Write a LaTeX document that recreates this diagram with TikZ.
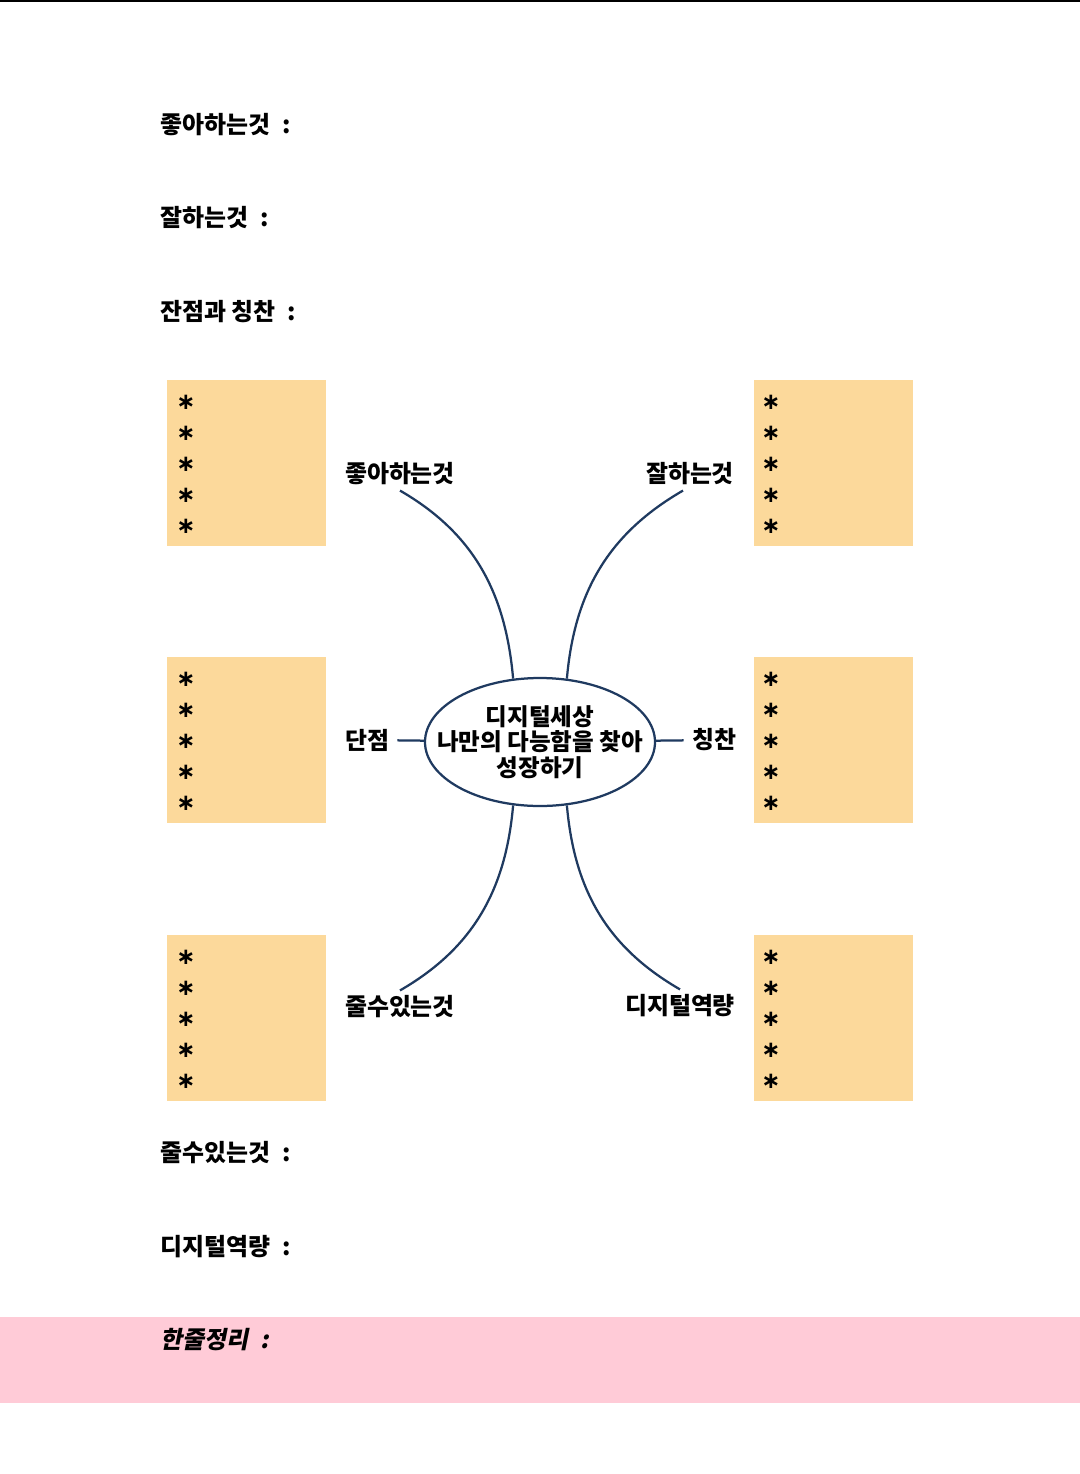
\documentclass[tikz,border=0pt]{standalone}
\usepackage{fontspec}
\setmainfont{Noto Sans CJK KR}
\newfontfamily\krslant{Noto Sans CJK KR}[FakeSlant=0.2]
\newfontfamily\symfont{DejaVu Sans}
\usetikzlibrary{shapes.geometric}

\definecolor{memo}{HTML}{FCD99B}
\definecolor{band}{HTML}{FFCBD7}
\definecolor{navy}{HTML}{1F3A60}

\begin{document}
\begin{tikzpicture}[
  x=0.2mm, y=-0.2mm,
  every node/.style = {font=\bfseries\fontsize{13.6}{16}\selectfont, inner sep=1mm},
  branch/.style = {navy, line width=0.45mm},
  starmark/.style = {inner sep=0pt, font=\symfont\bfseries\fontsize{13}{13}\selectfont},
]
\useasboundingbox (0,0) rectangle (1080,1474);
\fill[white] (0,0) rectangle (1080,1474);

% ── Top rule and summary band ─────────────────────────────────────────────
\draw[line width=0.5mm] (0,1) -- (1080,1);
\fill[band] (0,1317) rectangle (1080,1403);

% ── Heading lines ─────────────────────────────────────────────────────────
\node[anchor=west] (h-like) at (155,125) {좋아하는것\enspace:};
\node[anchor=west] (h-good) at (155,218) {잘하는것\enspace:};
\node[anchor=west] (h-praise) at (155,312) {잔점과 칭찬\enspace:};
\node[anchor=west] (h-give) at (155,1153) {줄수있는것\enspace:};
\node[anchor=west] (h-digi) at (155,1247) {디지털역량\enspace:};
\node[anchor=west, font=\krslant\bfseries\fontsize{13.6}{16}\selectfont]
  (h-sum) at (155,1340) {한줄정리\enspace:};

% ── Memo boxes with asterisks ─────────────────────────────────────────────
\foreach \mx/\my/\ax [count=\b] in {167/380/186, 167/657/186, 167/935/186, 754/380/771, 754/657/771, 754/935/771} {
  \fill[memo] (\mx,\my) rectangle ++(159,166);
  \foreach \k in {0,1,2,3,4} {
    \pgfmathsetmacro{\ay}{\my+22+31*\k}
    \node[starmark] (star\b\k) at (\ax,\ay) {∗};
  }
}

% ── Centre topic ──────────────────────────────────────────────────────────
\node[ellipse, draw=navy, line width=0.45mm, inner xsep=-9mm, inner ysep=0pt,
      minimum width=46mm, minimum height=25.6mm, align=center,
      font=\bfseries\fontsize{13.4}{14.6}\selectfont]
  (hub) at (540,742) {디지털세상\\나만의 다능함을 찾아\\성장하기};

% ── Branch labels ─────────────────────────────────────────────────────────
\node (like) at (400,474) {좋아하는것};
\node (good) at (690,474) {잘하는것};
\node[inner sep=1.6mm] (weak) at (367,740) {단점};
\node[inner sep=1.6mm] (praise) at (714,740) {칭찬};
\node (give) at (400,1007) {줄수있는것};
\node (digi) at (680,1006) {디지털역량};

% ── Branches ──────────────────────────────────────────────────────────────
\draw[branch] (like.south) to[out=-30, in=95] (hub.113);
\draw[branch] ([xshift=-1.4mm]good.south) to[out=-150, in=85] (hub.67);
\draw[branch] (give.north) to[out=30, in=-95] (hub.247);
\draw[branch] (digi.north) to[out=150, in=-85] (hub.293);
\draw[branch] (weak) -- (hub);
\draw[branch] (praise) -- (hub);

\end{tikzpicture}
\end{document}
